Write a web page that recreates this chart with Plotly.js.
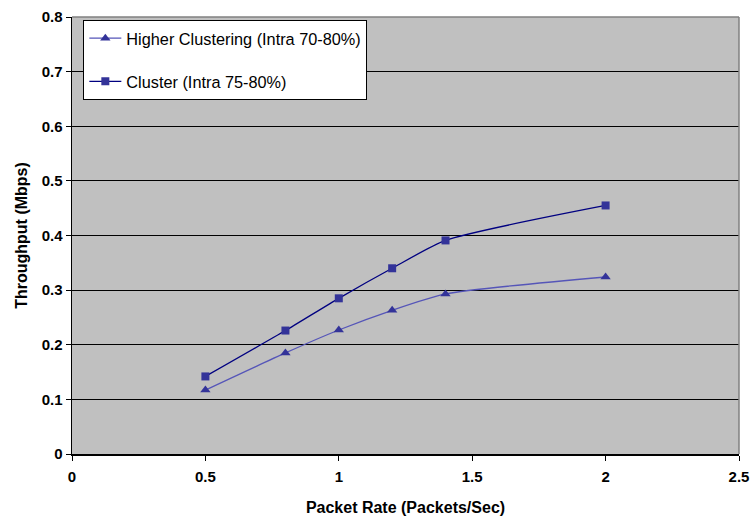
<!DOCTYPE html>
<html>
<head>
<meta charset="utf-8">
<script src="https://cdn.plot.ly/plotly-3.0.1.min.js"></script>
<style>
  html, body { margin: 0; padding: 0; background: #ffffff; }
  #chart { width: 750px; height: 517px; }
</style>
</head>
<body>
<div id="chart"></div>
<script>
// Packet rate (packets/sec) on the x axis
const packetRate = [0.5, 0.8, 1.0, 1.2, 1.4, 2.0];

// Throughput (Mbps) for each clustering configuration
const higherClusteringName = 'Higher Clustering (Intra 70-80%)';
const higherClustering = [0.117, 0.185, 0.227, 0.263, 0.293, 0.324];

const clusterName = 'Cluster (Intra 75-80%)';
const cluster = [0.142, 0.226, 0.285, 0.340, 0.391, 0.455];

const xTicks = [0, 0.5, 1, 1.5, 2, 2.5];
const xTickText = ['0', '0.5', '1', '1.5', '2', '2.5'];
const yTicks = [0, 0.1, 0.2, 0.3, 0.4, 0.5, 0.6, 0.7, 0.8];
const yTickText = ['0', '0.1', '0.2', '0.3', '0.4', '0.5', '0.6', '0.7', '0.8'];

const markerColor = '#333399';
const fontFamily = 'Liberation Sans, Arial, sans-serif';

const traces = [
  {
    x: packetRate, y: higherClustering, name: higherClusteringName,
    type: 'scatter', mode: 'lines+markers', legendgroup: 'a',
    line: { color: '#5555b8', width: 1.3, shape: 'spline', smoothing: 0.6 },
    marker: { symbol: 'triangle-up', size: 9, color: markerColor }
  },
  {
    x: packetRate, y: cluster, name: clusterName,
    type: 'scatter', mode: 'lines+markers', legendgroup: 'b',
    line: { color: '#000080', width: 1.3, shape: 'spline', smoothing: 0.6 },
    marker: { symbol: 'square', size: 8, color: markerColor }
  }
];

const tickFont = { family: fontFamily, size: 15, color: '#000000', weight: 'bold' };
const titleFont = { family: fontFamily, size: 16, color: '#000000', weight: 'bold' };

const layout = {
  width: 750, height: 517,
  margin: { l: 72, r: 11, t: 17, b: 63 },
  paper_bgcolor: '#ffffff',
  plot_bgcolor: '#c0c0c0',
  font: { family: fontFamily, color: '#000000' },
  showlegend: true,
  legend: {
    x: 0.017, y: 0.993, xanchor: 'left', yanchor: 'top',
    bgcolor: '#ffffff', bordercolor: '#000000', borderwidth: 1,
    font: { family: fontFamily, size: 16.3, color: '#000000' },
    traceorder: 'grouped', tracegroupgap: 19, itemwidth: 32
  },
  xaxis: {
    range: [0, 2.5], tickvals: xTicks, ticktext: xTickText,
    showgrid: false, zeroline: false,
    showline: true, linecolor: '#000000', linewidth: 1.5,
    ticks: 'outside', ticklen: 5, tickcolor: '#000000',
    tickfont: tickFont, ticklabelstandoff: 3,
    title: { text: 'Packet Rate (Packets/Sec)', font: titleFont, standoff: 18 }
  },
  yaxis: {
    range: [0, 0.8], tickvals: yTicks, ticktext: yTickText,
    showgrid: true, gridcolor: '#000000', gridwidth: 1,
    zeroline: false,
    showline: true, linecolor: '#000000', linewidth: 1.5,
    ticks: 'outside', ticklen: 5, tickcolor: '#000000',
    tickfont: tickFont,
    title: { text: 'Throughput (Mbps)', font: titleFont, standoff: 10 }
  },
  shapes: [
    // grey frame on the top and right of the plotting area
    { type: 'line', xref: 'paper', yref: 'paper', x0: 0, x1: 1, y0: 1, y1: 1,
      line: { color: '#808080', width: 1.5 } },
    { type: 'line', xref: 'paper', yref: 'paper', x0: 1, x1: 1, y0: 0, y1: 1,
      line: { color: '#808080', width: 1.5 } }
  ]
};

Plotly.newPlot('chart', traces, layout, { displayModeBar: false, staticPlot: true });
</script>
</body>
</html>
